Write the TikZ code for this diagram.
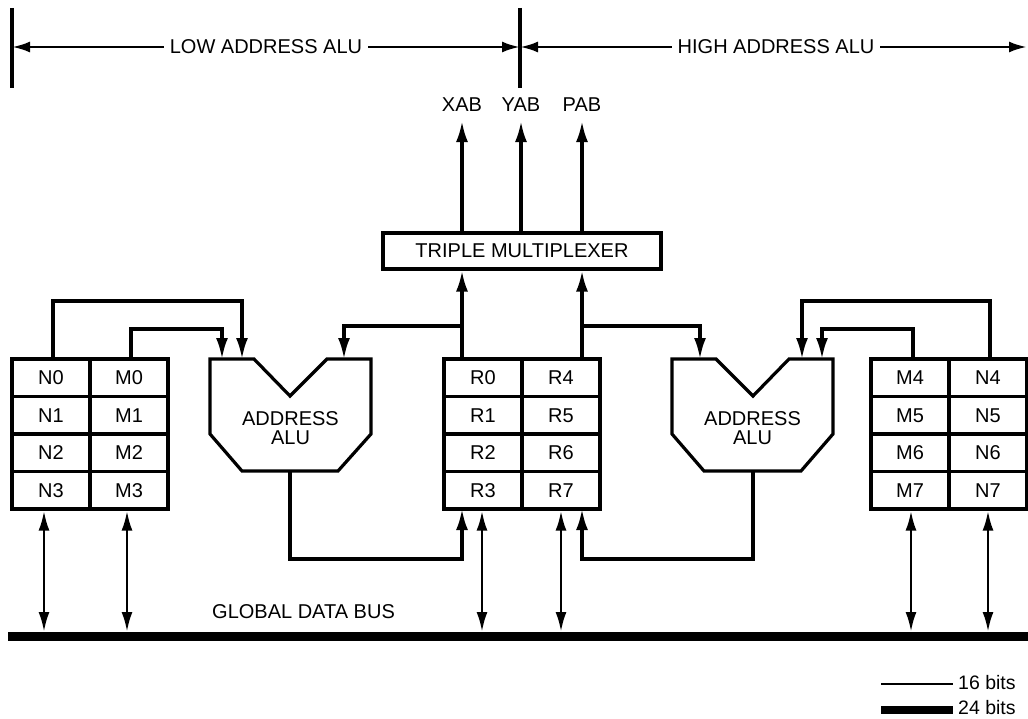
\documentclass[tikz,border=0pt]{standalone}
\usepackage{fontspec}
\setmainfont{Liberation Sans}
\usetikzlibrary{arrows.meta}
\begin{document}
\begin{tikzpicture}[x=1pt,y=-1pt,
  every node/.style={font=\fontsize{20}{19.5}\selectfont, inner sep=0pt},
  cell/.style={draw, line width=3.2pt, minimum width=78pt, minimum height=37.5pt, anchor=center},
  wire/.style={line width=3.2pt},
  tip/.style={-{Latex[length=21pt,width=12pt]}},
  bidir/.style={line width=2.8pt,{Latex[length=20pt,width=11pt]}-{Latex[length=20pt,width=11pt]}},
  dimarrow/.style={line width=2.8pt,{Latex[length=18pt,width=11pt]}-{Latex[length=18pt,width=11pt]}},
  alushape/.style={draw, line width=3.2pt, line join=miter},
  bus/.style={line width=9.5pt}
]
\useasboundingbox (0,0) rectangle (1028,719);

% top dimension lines
\draw[line width=3.4pt] (12,8) -- (12,88);
\draw[line width=3.4pt] (520,8) -- (520,88);
\coordinate (tl) at (12,47);
\coordinate (tm) at (520,47);
\coordinate (tr) at (1027,47);
\draw[dimarrow] (tl) -- (tm) node[midway, fill=white, inner xsep=6pt, inner ysep=2pt] (lowlbl) {LOW ADDRESS ALU};
\draw[dimarrow] (tm) -- (tr) node[pos=0.505, fill=white, inner xsep=6pt, inner ysep=2pt] (highlbl) {HIGH ADDRESS ALU};

% multiplexer
\node[draw, line width=3.2pt, minimum width=278pt, minimum height=36pt] (mux) at (522,251) {TRIPLE MULTIPLEXER};
\node (xab) at (462,105) {XAB};
\node (yab) at (521,105) {YAB};
\node (pab) at (582,105) {PAB};
\draw[wire,tip] (mux.north -| xab) -- ([yshift=-9pt]xab.south);
\draw[wire,tip] (mux.north -| yab) -- ([yshift=-9pt]yab.south);
\draw[wire,tip] (mux.north -| pab) -- ([yshift=-9pt]pab.south);

% left register file
\foreach \r/\y in {0/377.75,1/415.25,2/452.75,3/490.25}{
  \node[cell] (N\r) at (51,\y) {N\r};
  \node[cell] (M\r) at (129,\y) {M\r};
}
% centre register file
\foreach \r/\s/\y in {0/4/377.75,1/5/415.25,2/6/452.75,3/7/490.25}{
  \node[cell] (R\r) at (483,\y) {R\r};
  \node[cell] (R\s) at (561,\y) {R\s};
}
% right register file
\foreach \r/\y in {4/377.75,5/415.25,6/452.75,7/490.25}{
  \node[cell] (M\r) at (910,\y) {M\r};
  \node[cell] (N\r) at (988,\y) {N\r};
}

% address ALUs
\draw[alushape] (210,359) -- (254,359) -- (290,396) -- (327,359) -- (371,359) -- (371,434) -- (338,471) -- (242,471) -- (210,434) -- cycle;
\node[align=center] (alu1) at (290.5,428) {ADDRESS\\ALU};
\draw[alushape] (672,359) -- (716,359) -- (753,396) -- (789,359) -- (833,359) -- (833,434) -- (801,471) -- (704,471) -- (672,434) -- cycle;
\node[align=center] (alu2) at (752.5,428) {ADDRESS\\ALU};
\coordinate (a1top) at (290,359);
\coordinate (a1bot) at (290,471);
\coordinate (a2top) at (753,359);
\coordinate (a2bot) at (753,471);

% R file to multiplexer and ALUs
\coordinate (rl) at (462,359);
\coordinate (rr) at (582,359);
\draw[wire,tip] (rl) -- (rl |- mux.south);
\draw[wire,tip] (rr) -- (rr |- mux.south);
\draw[wire,tip] (462,326) -- (344,326) -- (344,359);
\draw[wire,tip] (582,326) -- (700,326) -- (700,359);

% N/M to ALU1
\draw[wire,tip] (N0.north -| 53,0) -- (53,301) -- (242,301) -- (242,359);
\draw[wire,tip] (M0.north -| 131,0) -- (131,329) -- (222,329) -- (222,359);
% M/N to ALU2
\draw[wire,tip] (M4.north -| 913,0) -- (913,329) -- (822,329) -- (822,359);
\draw[wire,tip] (N4.north -| 990,0) -- (990,301) -- (802,301) -- (802,359);

% ALU outputs back to R file
\draw[wire,tip] (a1bot) -- (290,559) -- (462,559) -- (462,509);
\draw[wire,tip] (a2bot) -- (753,559) -- (582,559) -- (582,509);

% global data bus
\coordinate (busL) at (8,636.5);
\coordinate (busR) at (1028,636.5);
\draw[bus] (busL) -- (busR);
\node[anchor=west] (buslbl) at (212,612) {GLOBAL DATA BUS};
\foreach \c/\x in {N3/44,M3/127,R3/482,R7/561,M7/911,N7/988}{
  \draw[bidir] (\c.south -| \x,0) -- (\x,632);
}

% legend
\coordinate (l1a) at (881,684);
\coordinate (l1b) at (953,684);
\coordinate (l2a) at (881,710);
\coordinate (l2b) at (953,710);
\draw[line width=2.6pt] (l1a) -- (l1b);
\draw[line width=8.5pt] (l2a) -- (l2b);
\node[anchor=west, font=\fontsize{19.5}{19}\selectfont] (leg1) at (958,683) {16 bits};
\node[anchor=west, font=\fontsize{19.5}{19}\selectfont] (leg2) at (958,708) {24 bits};
\end{tikzpicture}
\end{document}
